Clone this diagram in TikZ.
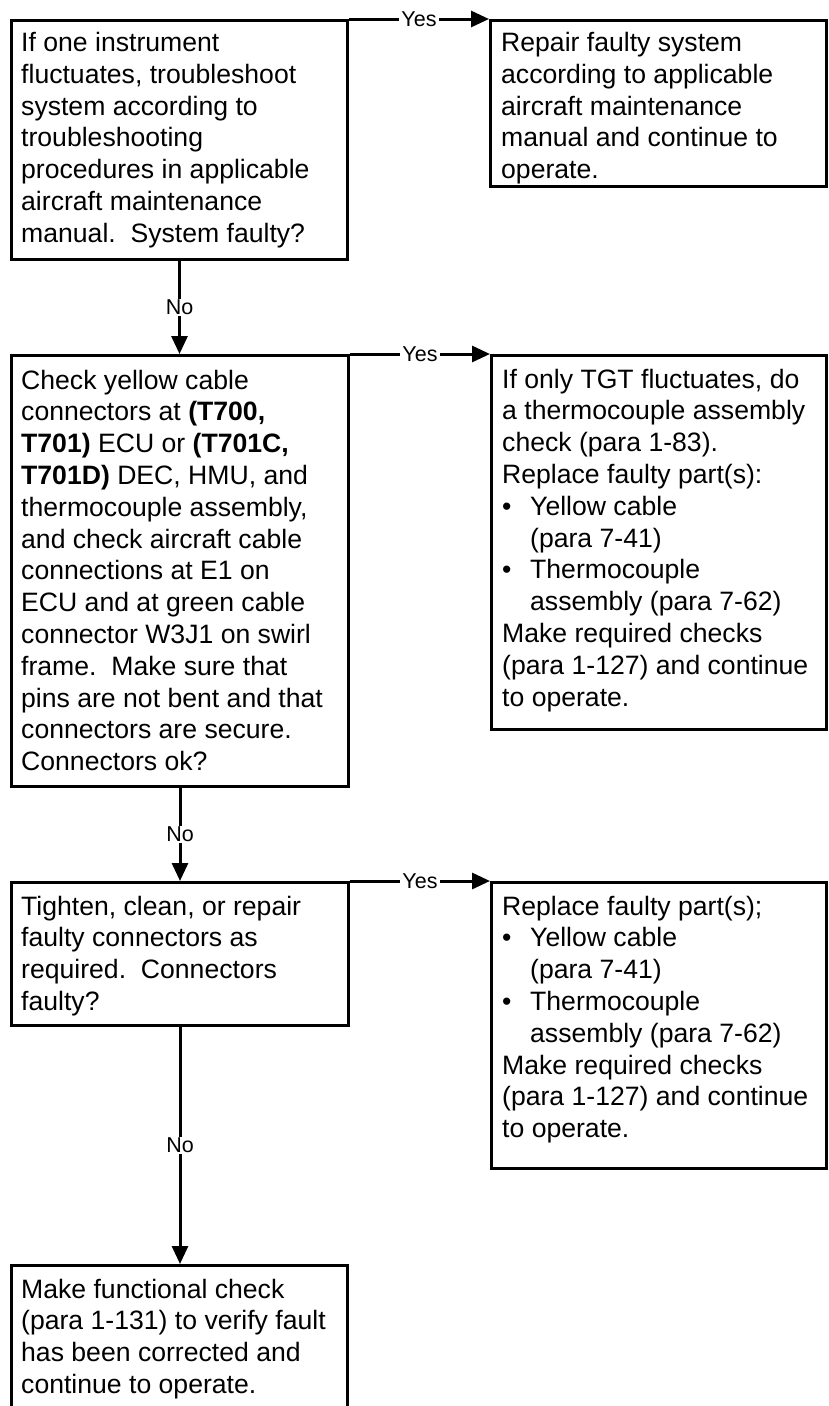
\documentclass[tikz,border=0pt]{standalone}
\usepackage{fontspec}
\setmainfont{Liberation Sans}
\usetikzlibrary{arrows.meta}
% bullet item with hanging indent
\newcommand\itembullet{\makebox[28pt][l]{•}}
\newcommand\itemhang{\hspace*{28pt}}
\begin{document}
\begin{tikzpicture}[x=1pt,y=-1pt,
  box/.style={draw, line width=3pt, inner sep=0pt, anchor=north west},
  txt/.style={anchor=north west, inner sep=0pt, align=left,
              font=\fontsize{26.6}{31.8}\selectfont\frenchspacing},
  lbl/.style={fill=white, inner xsep=2pt, inner ysep=1pt,
              font=\fontsize{21.5}{25}\selectfont},
  conn/.style={line width=3pt, -{Triangle[length=18pt,width=16pt]}}]
\useasboundingbox (0,0) rectangle (829,1406);
\clip (0,0) rectangle (829,1406);

% boxes
\node[box, minimum width=336pt, minimum height=239pt] (b1) at (10,19) {};
\node[box, minimum width=336pt, minimum height=166pt] (b2) at (489,19) {};
\node[box, minimum width=337pt, minimum height=431pt] (b3) at (10,354) {};
\node[box, minimum width=335pt, minimum height=374pt] (b4) at (490,354) {};
\node[box, minimum width=337pt, minimum height=143pt] (b5) at (10,881) {};
\node[box, minimum width=335pt, minimum height=286pt] (b6) at (490,881) {};
\node[box, minimum width=336pt, minimum height=200pt] (b7) at (10,1264) {};

% texts
\node[txt] (t1) at ([shift={(11,10)}]b1.north west) {\strut If one instrument\\
fluctuates, troubleshoot\\
system according to\\
troubleshooting\\
procedures in applicable\\
aircraft maintenance\\
manual.~ System faulty?};

\node[txt] (t2) at ([shift={(12,10)}]b2.north west) {\strut Repair faulty system\\
according to applicable\\
aircraft maintenance\\
manual and continue to\\
operate.};

\node[txt] (t3) at ([shift={(11,12.7)}]b3.north west) {\strut Check yellow cable\\
connectors at \textbf{(T700,}\\
\textbf{T701)} ECU or \textbf{(T701C,}\\
\textbf{T701D)} DEC, HMU, and\\
thermocouple assembly,\\
and check aircraft cable\\
connections at E1 on\\
ECU and at green cable\\
connector W3J1 on swirl\\
frame.~ Make sure that\\
pins are not bent and that\\
connectors are secure.\\
Connectors ok?};

\node[txt] (t4) at ([shift={(12,11.7)}]b4.north west) {\strut If only TGT fluctuates, do\\
a thermocouple assembly\\
check (para 1-83).\\
Replace faulty part(s):\\
\itembullet Yellow cable\\
\itemhang (para 7-41)\\
\itembullet Thermocouple\\
\itemhang assembly (para 7-62)\\
Make required checks\\
(para 1-127) and continue\\
to operate.};

\node[txt] (t5) at ([shift={(11,11.7)}]b5.north west) {\strut Tighten, clean, or repair\\
faulty connectors as\\
required.~ Connectors\\
faulty?};

\node[txt] (t6) at ([shift={(12,11.7)}]b6.north west) {\strut Replace faulty part(s);\\
\itembullet Yellow cable\\
\itemhang (para 7-41)\\
\itembullet Thermocouple\\
\itemhang assembly (para 7-62)\\
Make required checks\\
(para 1-127) and continue\\
to operate.};

\node[txt] (t7) at ([shift={(11,11.7)}]b7.north west) {\strut Make functional check\\
(para 1-131) to verify fault\\
has been corrected and\\
continue to operate.};

% Yes branches
\draw[conn] (b1.north east) -- node[lbl] {Yes} (b2.north west);
\draw[conn] (b3.north east) -- node[lbl] {Yes} (b4.north west);
\draw[conn] (b5.north east) -- node[lbl] {Yes} (b6.north west);

% No branches
\draw[conn] (b1.south) -- node[lbl] {No} (b1.south |- b3.north);
\draw[conn] (b3.south) -- node[lbl] {No} (b3.south |- b5.north);
\draw[conn] (b5.south) -- node[lbl] {No} (b5.south |- b7.north);
\end{tikzpicture}
\end{document}
